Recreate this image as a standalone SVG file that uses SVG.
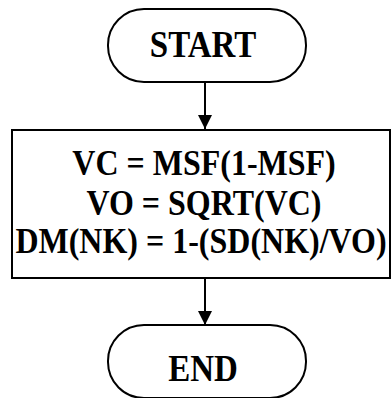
<svg xmlns="http://www.w3.org/2000/svg" width="391" height="398" viewBox="0 0 391 398">
<defs>
<style>
.shape{fill:#fff;stroke:#000;stroke-width:2}
.t{font-family:"Liberation Serif","Times New Roman",serif;font-weight:bold;fill:#000;text-anchor:middle}
.big{font-size:33px}
.mid{font-size:32px}
.conn{stroke:#000;stroke-width:2;fill:none}
</style>
<marker id="arr" viewBox="0 0 10 10" refX="10" refY="5" markerWidth="7" markerHeight="7" markerUnits="strokeWidth" orient="auto">
<path d="M0,0 L10,5 L0,10 z" fill="#000"/>
</marker>
</defs>
<rect width="391" height="398" fill="#fff"/>
<g id="connectors">
<line class="conn" x1="205" y1="82" x2="205" y2="129" marker-end="url(#arr)"/>
<line class="conn" x1="205" y1="278" x2="205" y2="325" marker-end="url(#arr)"/>
</g>
<g id="start">
<rect class="shape" x="108" y="9" width="198" height="73" rx="36" ry="36"/>
<text class="t big" transform="translate(203,57) scale(1,1.15)">START</text>
</g>
<g id="process">
<rect class="shape" x="12" y="130" width="378" height="148"/>
<text class="t mid" transform="translate(204,175) scale(1,1.1)">VC = MSF(1-MSF)</text>
<text class="t mid" transform="translate(204,215) scale(1,1.1)">VO = SQRT(VC)</text>
<text class="t mid" transform="translate(201,253) scale(1,1.1)">DM(NK) = 1-(SD(NK)/VO)</text>
</g>
<g id="end">
<rect class="shape" x="108" y="325" width="198" height="73" rx="36" ry="36"/>
<text class="t big" transform="translate(203,381) scale(1,1.15)">END</text>
</g>
</svg>
